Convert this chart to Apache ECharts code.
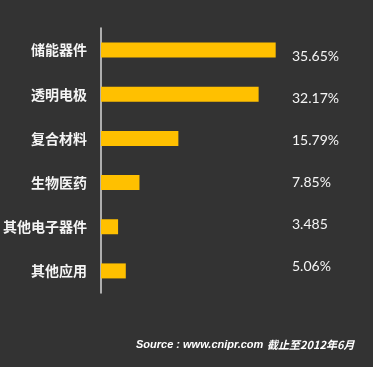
<!DOCTYPE html>
<html><head><meta charset="utf-8">
<script src="https://cdn.jsdelivr.net/npm/echarts@6/dist/echarts.min.js"></script>
<style>html,body{margin:0;padding:0;background:#333333;}#c{width:373px;height:367px;}</style>
</head><body><div id="c"></div>
<script>
var categories = ['储能器件','透明电极','复合材料','生物医药','其他电子器件','其他应用'];
var values = [35.65, 32.17, 15.79, 7.85, 3.485, 5.06];
var valueLabels = ['35.65%','32.17%','15.79%','7.85%','3.485','5.06%'];
var sourceText = 'Source : www.cnipr.com';
var dateText = '截止至2012年6月';

var chart = echarts.init(document.getElementById('c'));
chart.setOption({
  backgroundColor: '#333333',
  animation: false,
  grid: [
    {left: 100, top: 28, width: 197, bottom: 74},
    {left: 200, right: 81, top: 35, bottom: 79}
  ],
  xAxis: [
    {gridIndex: 0, type: 'value', min: 0, max: 40, show: false},
    {gridIndex: 1, type: 'value', min: 0, max: 1, show: false}
  ],
  yAxis: [
    {gridIndex: 0, type: 'category', data: categories, inverse: true,
     axisLine: {show: true, lineStyle: {color: '#d9d9d9', width: 1.5}},
     axisTick: {show: false},
     axisLabel: {color: '#f5f5f5', fontSize: 14, fontWeight: 'bold', margin: 14,
       fontFamily: 'Noto Sans CJK SC'}},
    {gridIndex: 1, type: 'category', data: valueLabels, inverse: true, position: 'right',
     axisLine: {show: false}, axisTick: {show: false},
     axisLabel: {color: '#f5f5f5', fontSize: 14, margin: 0, align: 'left',
       fontFamily: 'Lato'}}
  ],
  series: [{
    type: 'bar', xAxisIndex: 0, yAxisIndex: 0, data: values, barWidth: 15,
    itemStyle: {color: '#FFC000'}
  }],
  graphic: [
    {type: 'text', left: 136, top: 339, style: {text: sourceText, fill: '#ffffff',
      font: 'italic bold 11px "Liberation Sans"'}},
    {type: 'text', left: 267, top: 339, style: {text: dateText, fill: '#ffffff',
      font: 'italic bold 11px "Noto Sans CJK SC"'}}
  ]
});
</script></body></html>
